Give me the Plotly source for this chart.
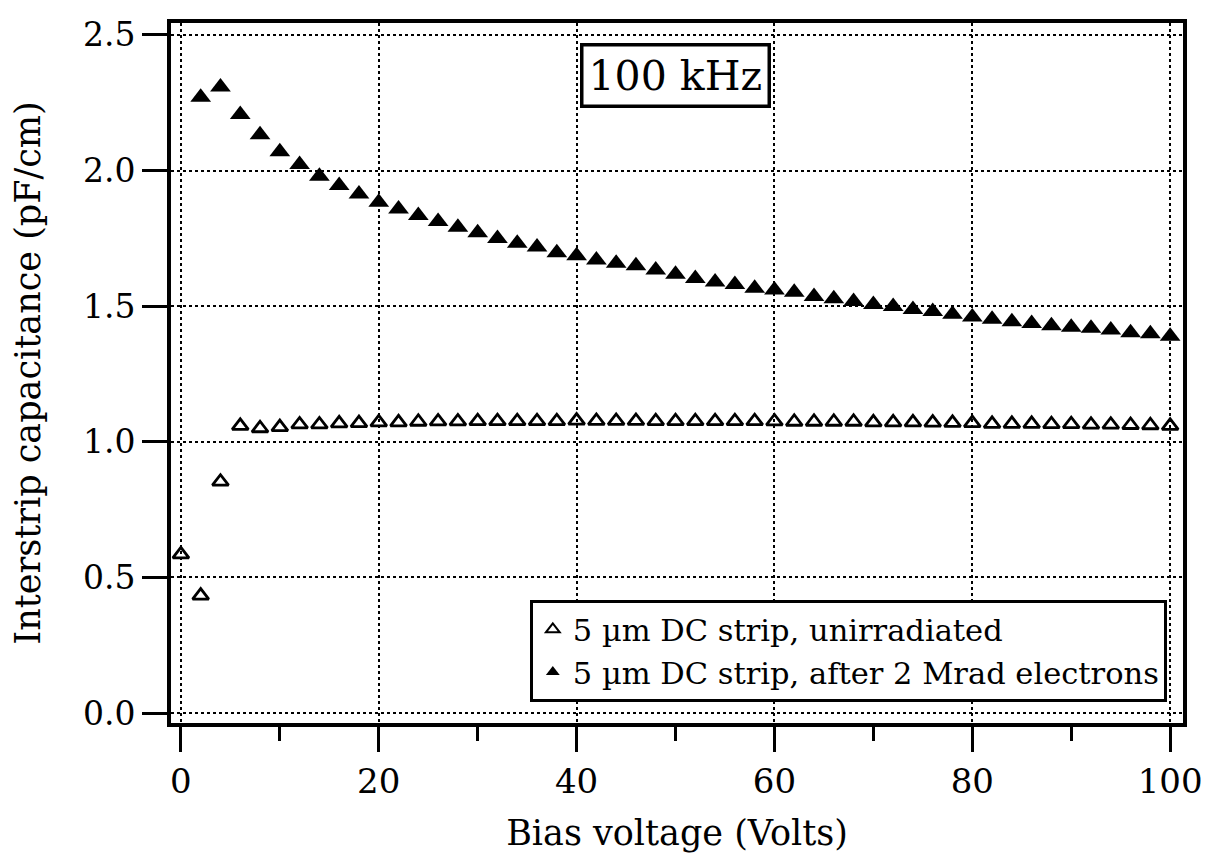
import plotly.graph_objects as go

# Bias voltage (Volts)
bias_open = [0, 2, 4, 6, 8, 10, 12, 14, 16, 18, 20, 22, 24, 26, 28, 30, 32, 34, 36, 38, 40,
             42, 44, 46, 48, 50, 52, 54, 56, 58, 60, 62, 64, 66, 68, 70, 72, 74, 76, 78, 80,
             82, 84, 86, 88, 90, 92, 94, 96, 98, 100]
cap_unirradiated = [0.585, 0.433, 0.853, 1.059, 1.050, 1.054, 1.064, 1.064, 1.068, 1.069, 1.072,
                    1.072, 1.074, 1.075, 1.075, 1.076, 1.076, 1.076, 1.076, 1.076, 1.078,
                    1.077, 1.077, 1.077, 1.076, 1.076, 1.076, 1.076, 1.076, 1.076, 1.075,
                    1.074, 1.074, 1.074, 1.074, 1.072, 1.072, 1.072, 1.071, 1.070, 1.069,
                    1.066, 1.066, 1.066, 1.065, 1.065, 1.063, 1.063, 1.062, 1.061, 1.059]

bias_filled = [2, 4, 6, 8, 10, 12, 14, 16, 18, 20, 22, 24, 26, 28, 30, 32, 34, 36, 38, 40,
               42, 44, 46, 48, 50, 52, 54, 56, 58, 60, 62, 64, 66, 68, 70, 72, 74, 76, 78, 80,
               82, 84, 86, 88, 90, 92, 94, 96, 98, 100]
cap_irradiated = [2.270, 2.308, 2.206, 2.132, 2.069, 2.022, 1.979, 1.945, 1.913, 1.883,
                  1.858, 1.834, 1.812, 1.791, 1.771, 1.749, 1.732, 1.718, 1.697, 1.686,
                  1.670, 1.658, 1.649, 1.633, 1.618, 1.602, 1.589, 1.580, 1.566, 1.560,
                  1.551, 1.536, 1.527, 1.517, 1.506, 1.499, 1.488, 1.480, 1.470, 1.460,
                  1.452, 1.443, 1.436, 1.428, 1.422, 1.419, 1.412, 1.402, 1.398, 1.389]

x_ticks = [0, 20, 40, 60, 80, 100]
y_ticks = [0.0, 0.5, 1.0, 1.5, 2.0, 2.5]

FONT = "DejaVu Serif, Liberation Serif, serif"

fig = go.Figure()
fig.add_trace(go.Scatter(
    x=bias_open, y=cap_unirradiated, mode="markers",
    name="5 µm DC strip, unirradiated",
    marker=dict(symbol="triangle-up-open", size=14, color="black", line=dict(width=2.8, color="black")),
))
fig.add_trace(go.Scatter(
    x=bias_filled, y=cap_irradiated, mode="markers",
    name="5 µm DC strip, after 2 Mrad electrons",
    marker=dict(symbol="triangle-up", size=18, color="black", line=dict(width=0)),
))

fig.add_annotation(
    x=50, y=2.352, xref="x", yref="y", text="100 kHz", showarrow=False,
    font=dict(family=FONT, size=41, color="black"),
    bordercolor="black", borderwidth=3.5, borderpad=5, bgcolor="white",
)

fig.update_layout(
    width=1202, height=852,
    margin=dict(l=163, r=22, t=7, b=137),
    paper_bgcolor="white", plot_bgcolor="white",
    font=dict(family=FONT, color="black", size=30),
    showlegend=True,
    legend=dict(
        x=0.984, y=0.030, xanchor="right", yanchor="bottom",
        bordercolor="black", borderwidth=3, bgcolor="white",
        font=dict(family=FONT, size=30.5, color="black"),
        itemsizing="constant", tracegroupgap=0,
    ),
    xaxis=dict(
        range=[-1.0, 101.3], tickvals=x_ticks, ticktext=[str(v) for v in x_ticks],
        ticks="outside", ticklen=25, tickwidth=2.5, tickcolor="black",
        minor=dict(dtick=10, tick0=0, ticks="outside", ticklen=14, tickwidth=2.5, tickcolor="black", showgrid=False),
        showline=True, linewidth=4, linecolor="black", mirror=True,
        showgrid=True, gridcolor="black", gridwidth=1.5, griddash="dot",
        zeroline=False,
        title=dict(text="Bias voltage (Volts)", font=dict(family=FONT, size=35), standoff=22),
        tickfont=dict(family=FONT, size=34),
    ),
    yaxis=dict(
        range=[-0.0364, 2.5437], tickvals=y_ticks, ticktext=["%.1f" % v for v in y_ticks],
        ticks="outside", ticklen=25, tickwidth=2.5, tickcolor="black",
        showline=True, linewidth=4, linecolor="black", mirror=True,
        showgrid=True, gridcolor="black", gridwidth=1.5, griddash="dot",
        zeroline=False,
        title=dict(text="Interstrip capacitance (pF/cm)", font=dict(family=FONT, size=35), standoff=34),
        tickfont=dict(family=FONT, size=33),
    ),
)

fig.write_html("out.html")
